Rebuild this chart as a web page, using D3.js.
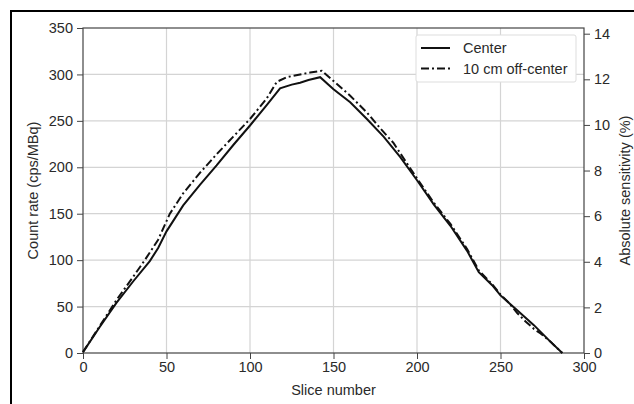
<!DOCTYPE html>
<html>
<head>
<meta charset="utf-8">
<script src="https://cdn.jsdelivr.net/npm/d3@7"></script>
<style>
  body { margin: 0; background: #fff; }
  text { font-family: "Liberation Sans", Arial, sans-serif; }
</style>
</head>
<body>
<script>
// slice number / count rate (cps/MBq)
var centerSlice = [0, 10, 20, 30, 40, 45, 50, 60, 70, 80, 90, 100, 110, 118, 125, 130, 135, 142, 150, 160, 170, 180, 190, 200, 210, 220, 230, 237, 245, 250, 260, 270, 280, 287];
var centerRate  = [1, 28, 54, 77, 99, 113, 131, 159, 181, 202, 224, 245, 267, 285, 289, 291, 294, 297, 284, 270, 252, 233, 211, 186, 160, 137, 110, 87, 73, 62, 46, 30, 12, 0];

var offSlice = [0, 10, 20, 30, 37, 45, 52, 60, 70, 80, 90, 100, 110, 116, 122, 130, 136, 143, 150, 160, 170, 178, 186, 190, 200, 210, 220, 230, 237, 245, 250, 255, 260, 265, 270, 274, 280, 287];
var offRate  = [1, 29, 57, 82, 100, 122, 150, 172, 194, 214, 233, 252, 274, 292, 297, 300, 302, 304, 293, 277, 259, 242, 226, 215, 188, 162, 139, 112, 89, 74, 63, 54, 43, 34, 26, 21, 12, 0];

var xTicks = [0, 50, 100, 150, 200, 250, 300];
var yTicks = [0, 50, 100, 150, 200, 250, 300, 350];
var y2Ticks = [0, 2, 4, 6, 8, 10, 12, 14];
var seriesNames = ["Center", "10 cm off-center"];

var W = 634, H = 404;
var m = { left: 83, right: 50, top: 28, bottom: 51 };
var iw = W - m.left - m.right, ih = H - m.top - m.bottom;
var fs = "14.5px";

var svg = d3.select("body").append("svg")
  .attr("width", W).attr("height", H);

// outer frame (left + top only visible)
svg.append("path")
  .attr("d", "M11," + H + "V11H" + W)
  .attr("fill", "none").attr("stroke", "#000").attr("stroke-width", 2);

var g = svg.append("g").attr("transform", "translate(" + m.left + "," + m.top + ")");

var x = d3.scaleLinear().domain([0, 300]).range([0, iw]);
var y = d3.scaleLinear().domain([0, 350]).range([ih, 0]);
var y2 = d3.scaleLinear().domain([0, 14.25]).range([ih, 0]);

// grid
g.append("g").selectAll("line").data(xTicks.slice(1, -1)).enter().append("line")
  .attr("x1", function (d) { return x(d); }).attr("x2", function (d) { return x(d); })
  .attr("y1", 0).attr("y2", ih)
  .attr("stroke", "#d4d4d4").attr("stroke-width", 1.2);
g.append("g").selectAll("line").data(yTicks.slice(1, -1)).enter().append("line")
  .attr("y1", function (d) { return y(d); }).attr("y2", function (d) { return y(d); })
  .attr("x1", 0).attr("x2", iw)
  .attr("stroke", "#d4d4d4").attr("stroke-width", 1.2);

// axes
var ax = g.append("g").attr("transform", "translate(0," + ih + ")")
  .call(d3.axisBottom(x).tickValues(xTicks).tickSize(6).tickPadding(3));
var ay = g.append("g")
  .call(d3.axisLeft(y).tickValues(yTicks).tickSize(6).tickPadding(4));
var ay2 = g.append("g").attr("transform", "translate(" + iw + ",0)")
  .call(d3.axisRight(y2).tickValues(y2Ticks).tickSize(6).tickPadding(4));

[ax, ay, ay2].forEach(function (a) {
  a.select(".domain").remove();
  a.selectAll("line").attr("stroke", "#444");
  a.selectAll("text").attr("fill", "#2a2a2a").style("font-size", fs);
});

// plot box
g.append("rect").attr("width", iw).attr("height", ih)
  .attr("fill", "none").attr("stroke", "#444").attr("stroke-width", 1.2);

// axis titles
g.append("text")
  .attr("x", iw / 2).attr("y", ih + 42)
  .attr("text-anchor", "middle").attr("fill", "#2a2a2a").style("font-size", fs)
  .text("Slice number");
g.append("text")
  .attr("transform", "rotate(-90)")
  .attr("x", -ih / 2).attr("y", -45)
  .attr("text-anchor", "middle").attr("fill", "#2a2a2a").style("font-size", fs)
  .text("Count rate (cps/MBq)");
g.append("text")
  .attr("transform", "rotate(-90)")
  .attr("x", -ih / 2).attr("y", iw + 46)
  .attr("text-anchor", "middle").attr("fill", "#2a2a2a").style("font-size", fs)
  .text("Absolute sensitivity (%)");

var line = d3.line()
  .x(function (d) { return x(d[0]); })
  .y(function (d) { return y(d[1]); });

var centerData = centerSlice.map(function (s, i) { return [s, centerRate[i]]; });
var offData = offSlice.map(function (s, i) { return [s, offRate[i]]; });

g.append("path").datum(centerData)
  .attr("d", line).attr("fill", "none")
  .attr("stroke", "#111").attr("stroke-width", 2);
g.append("path").datum(offData)
  .attr("d", line).attr("fill", "none")
  .attr("stroke", "#111").attr("stroke-width", 2)
  .attr("stroke-dasharray", "8,3,2,3");

// legend
var lg = svg.append("g").attr("transform", "translate(416,35)");
lg.append("rect").attr("width", 160).attr("height", 47).attr("rx", 2)
  .attr("fill", "#fff").attr("stroke", "#ddd");
var le = lg.selectAll(".le").data(seriesNames).enter().append("g")
  .attr("transform", function (d, i) { return "translate(0," + (13 + i * 20.5) + ")"; });
le.append("line").attr("x1", 5).attr("x2", 34)
  .attr("stroke", "#111").attr("stroke-width", 2)
  .attr("stroke-dasharray", function (d, i) { return i ? "8,3,2,3" : null; });
le.append("text").attr("x", 47).attr("dy", "0.35em")
  .attr("fill", "#2a2a2a").style("font-size", fs)
  .text(function (d) { return d; });
</script>
</body>
</html>
